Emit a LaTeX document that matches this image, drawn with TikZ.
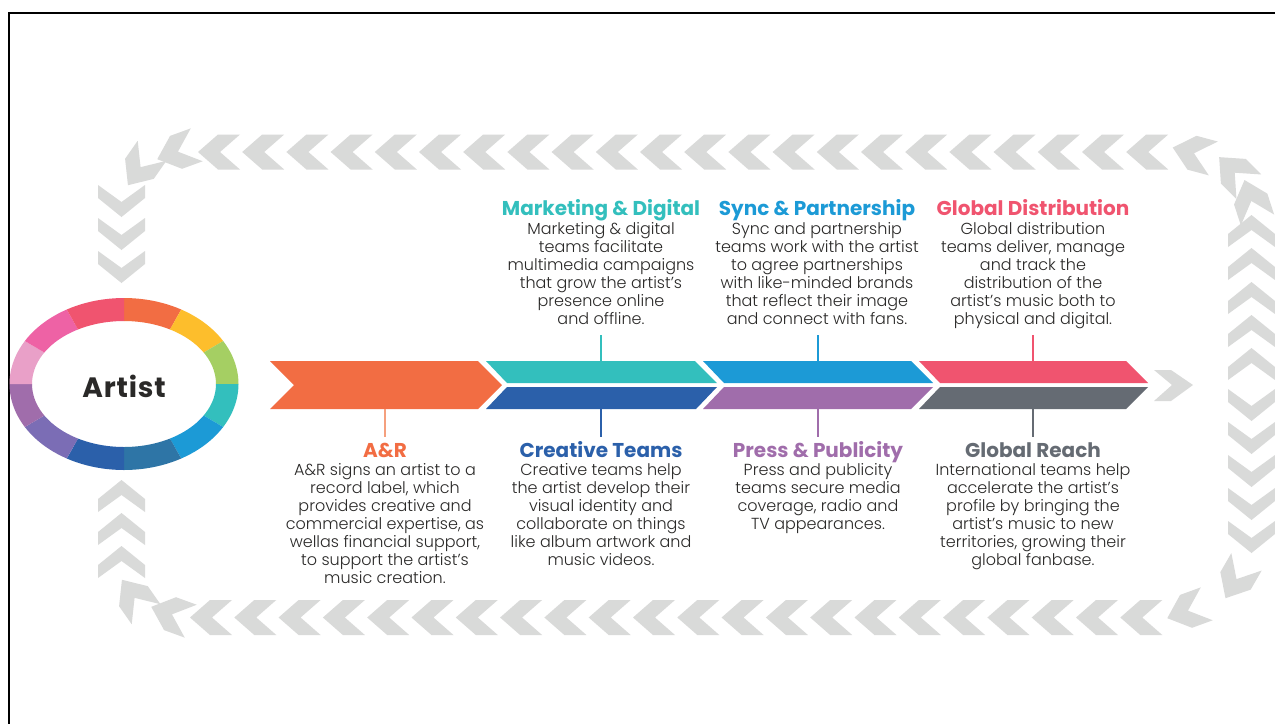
\documentclass[tikz,border=0pt]{standalone}
\usepackage{fontspec}
\setmainfont{Poppins}
\newfontfamily\lightfont{Poppins Light}
\definecolor{chevgray}{HTML}{D9DAD9}
\definecolor{bodytext}{HTML}{2A2928}
\definecolor{cOrange}{HTML}{F26D43}
\definecolor{cYellow}{HTML}{FDBE2C}
\definecolor{cGreen}{HTML}{A5CF63}
\definecolor{cTeal}{HTML}{33BFBD}
\definecolor{cLBlue}{HTML}{1C9AD6}
\definecolor{cSteel}{HTML}{2E75A6}
\definecolor{cDBlue}{HTML}{2B60AA}
\definecolor{cViolet}{HTML}{7B6DB5}
\definecolor{cPurple}{HTML}{A06DAB}
\definecolor{cLPink}{HTML}{E9A0C8}
\definecolor{cHPink}{HTML}{EE62A5}
\definecolor{cRed}{HTML}{F0546F}
\definecolor{cGray}{HTML}{656B73}
\definecolor{cOrangeL}{HTML}{F5A07E}
\tikzset{
  hchev/.pic={\fill[chevgray] (21,0)--(1,-17.5)--(-21,-17.5)--(-1,0)--(-21,17.5)--(1,17.5)--cycle;},
  vchev/.pic={\fill[chevgray] (16,0)--(-3,-23.5)--(-16,-23.5)--(1,0)--(-16,23.5)--(-3,23.5)--cycle;},
  ttl/.style={font=\bfseries\fontsize{20}{24}\selectfont, anchor=base, inner sep=0},
  bodytxt/.style={font=\lightfont\fontsize{16}{18}\selectfont, align=center, anchor=north, inner sep=0, text=bodytext},
  conn/.style={line width=1.3pt}
}
\begin{document}
\begin{tikzpicture}[x=1pt,y=-1pt]
\useasboundingbox (0,0) rectangle (1275,724);
\fill[white] (0,0) rectangle (1275,724);
% frame
\draw[line width=2.5pt] (1275,13) -- (9,13) -- (9,724);
% chevron loop
\foreach \k in {0,...,21} \pic[rotate=180] at ({219+44.2*\k},152) {hchev};
\foreach \k in {0,...,21} \pic[rotate=180] at ({211+44.3*\k},617.5) {hchev};
\foreach \yy in {201,234,267} \pic[rotate=-90] at (121.5,\yy) {vchev};
\foreach \yy in {496,529,562} \pic[rotate=90] at (121.5,\yy) {vchev};
\foreach \yy in {231,264,298,331,364} \pic[rotate=90] at (1251.5,\yy) {vchev};
\foreach \yy in {405,438,471,504,537} \pic[rotate=-90] at (1251.5,\yy) {vchev};
\pic[rotate=200] at (177,152) {hchev};
\pic[rotate=235] at (140,168) {hchev};
\pic[rotate=165] at (1193,153) {hchev};
\pic[rotate=135] at (1234,172) {hchev};
\pic[rotate=108] at (1251,200) {hchev};
\pic[rotate=125] at (134,597) {hchev};
\pic[rotate=160] at (171,614) {hchev};
\pic[rotate=200] at (1187,611) {hchev};
\pic[rotate=240] at (1236,580) {hchev};
% ring
\foreach \c [count=\i from 0] in {cOrange,cYellow,cGreen,cTeal,cLBlue,cSteel,cDBlue,cViolet,cPurple,cLPink,cHPink,cRed}{
  \pgfmathsetmacro\ta{90-30*\i}
  \pgfmathsetmacro\tb{60-30*\i}
  \fill[\c] plot[domain=\ta:\tb,samples=12] ({124+114.5*cos(\x)},{384-86*sin(\x)})
     -- plot[domain=\tb:\ta,samples=12] ({124+92*cos(\x)},{384-63*sin(\x)}) -- cycle;
}
\node[font=\bfseries\fontsize{28}{32}\selectfont\addfontfeatures{LetterSpace=3}, text=bodytext] (artist) at (124,386) {Artist};
% band
\fill[cOrange] (270,361)--(478,361)--(502,385)--(478,409)--(270,409)--(294,385)--cycle;
\fill[cTeal] (486,361)--(695,361)--(717,383)--(507,383)--cycle;
\fill[cDBlue] (507,387)--(717,387)--(696,409)--(486,409)--cycle;
\fill[cLBlue] (703,361)--(911,361)--(933,383)--(724,383)--cycle;
\fill[cPurple] (724,387)--(933,387)--(911,409)--(703,409)--cycle;
\fill[cRed] (919,361)--(1126,361)--(1148,383)--(940,383)--cycle;
\fill[cGray] (940,387)--(1148,387)--(1126,409)--(919,409)--cycle;
\fill[chevgray] (1154,370)--(1171,370)--(1193,385)--(1171,401)--(1154,401)--(1172,385)--cycle;
% connector coordinates
\coordinate (mdT) at (601,335); \coordinate (mdB) at (601,361);
\coordinate (spT) at (818,335); \coordinate (spB) at (818,361);
\coordinate (gdT) at (1033,335); \coordinate (gdB) at (1033,361);
\coordinate (arT) at (385,409); \coordinate (arB) at (385,437);
\coordinate (ctT) at (601,409); \coordinate (ctB) at (601,437);
\coordinate (ppT) at (818,409); \coordinate (ppB) at (818,437);
\coordinate (grT) at (1033,409); \coordinate (grB) at (1033,437);
\draw[conn,cTeal] (mdT) -- (mdB);
\draw[conn,cLBlue] (spT) -- (spB);
\draw[conn,cRed] (gdT) -- (gdB);
\draw[conn,cOrangeL] (arT) -- (arB);
\draw[conn,cDBlue] (ctT) -- (ctB);
\draw[conn,cPurple] (ppT) -- (ppB);
\draw[conn,cGray] (grT) -- (grB);
% top texts
\node[ttl,text=cTeal] (mdtitle) at (601,215) {Marketing \& Digital};
\node[bodytxt] (mdbody) at (601,222.5) {Marketing \& digital\\teams facilitate\\multimedia campaigns\\that grow the artist’s\\presence online\\and offline.};
\node[ttl,text=cLBlue] (sptitle) at (817,215) {Sync \& Partnership};
\node[bodytxt] (spbody) at (817,222.5) {Sync and partnership\\teams work with the artist\\to agree partnerships\\with like-minded brands\\that reflect their image\\and connect with fans.};
\node[ttl,text=cRed] (gdtitle) at (1033,215) {Global Distribution};
\node[bodytxt] (gdbody) at (1033,222.5) {Global distribution\\teams deliver, manage\\and track the\\distribution of the\\artist’s music both to\\physical and digital.};
% bottom texts
\node[ttl,text=cOrange] (artitle) at (385,457) {A\&R};
\node[bodytxt] (arbody) at (385,463.5) {A\&R signs an artist to a\\record label, which\\provides creative and\\commercial expertise, as\\wellas financial support,\\to support the artist’s\\music creation.};
\node[ttl,text=cDBlue] (cttitle) at (601,457) {Creative Teams};
\node[bodytxt] (ctbody) at (601,463.5) {Creative teams help\\the artist develop their\\visual identity and\\collaborate on things\\like album artwork and\\music videos.};
\node[ttl,text=cPurple] (pptitle) at (818,457) {Press \& Publicity};
\node[bodytxt] (ppbody) at (818,463.5) {Press and publicity\\teams secure media\\coverage, radio and\\TV appearances.};
\node[ttl,text=cGray] (grtitle) at (1033,457) {Global Reach};
\node[bodytxt] (grbody) at (1033,463.5) {International teams help\\accelerate the artist’s\\profile by bringing the\\artist’s music to new\\territories, growing their\\global fanbase.};
\end{tikzpicture}
\end{document}
